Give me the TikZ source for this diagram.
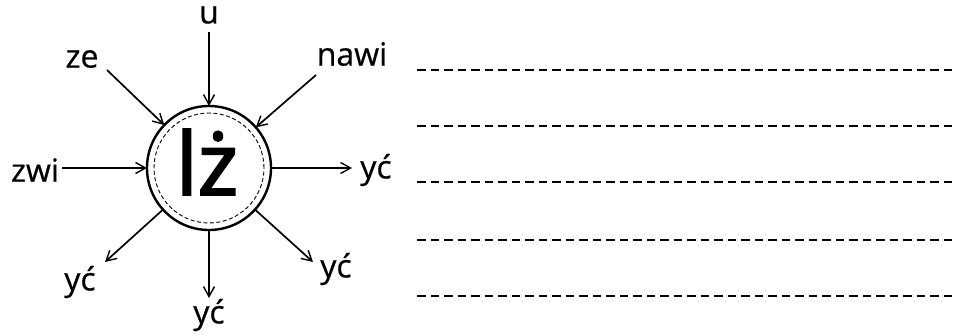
\documentclass[tikz,border=0pt]{standalone}
\usepackage{fontspec}
\setmainfont{Open Sans}[FakeBold=0.6,UprightFont=*,BoldFont=*]
\newfontfamily\bigfont{Open Sans}[FakeBold=2.5]
\usetikzlibrary{arrows.meta}
\begin{document}
\begin{tikzpicture}[x=1pt,y=-1pt,
  lbl/.style={font=\fontsize{32}{34}\selectfont\bfseries, inner sep=0pt},
  arr/.style={line width=1.7pt,-{Straight Barb[length=10pt,width=11pt,line width=1.4pt]}},
  hub/.style={circle, draw, line width=2.4pt, minimum size=124pt, inner sep=0pt, outer sep=0pt},
  wline/.style={line width=2.5pt, dash pattern=on 8.5pt off 5pt}]
\useasboundingbox (0,0) rectangle (957,334);
\node[hub] (c) at (209,168) {};
\node[font=\bigfont\fontsize{86}{88}\selectfont, inner sep=0pt] (lz) at (207,162) {lż};
\draw[line width=0.9pt, dash pattern=on 4pt off 2.5pt] (c.center) circle[radius=55pt];
% inputs
\node[lbl] (u) at (209,15) {u};
\node[lbl] (ze) at (82,59) {ze};
\node[lbl] (nawi) at (352,54) {nawi};
\node[lbl] (zwi) at (35,170) {zwi};
% outputs
\node[lbl] (y1) at (376,170) {yć};
\node[lbl] (y2) at (80,282) {yć};
\node[lbl] (y3) at (209,315) {yć};
\node[lbl] (y4) at (336,269) {yć};
\coordinate (ua) at (209,32);
\coordinate (zea) at (107,70);
\coordinate (nawia) at (316,75);
\coordinate (zwia) at (62,168);
\draw[arr] (ua) -- (c);
\draw[arr] (zea) -- (c);
\draw[arr] (nawia) -- (c);
\draw[arr] (zwia) -- (c.west);
\coordinate (y1a) at (352,168);
\coordinate (y2a) at (105,262);
\coordinate (y3a) at (209,298);
\coordinate (y4a) at (313,262);
\draw[arr] (c.east) -- (y1a);
\draw[arr] (c) -- (y2a);
\draw[arr] (c) -- (y3a);
\draw[arr] (c) -- (y4a);
% answer lines
\foreach \yy/\nm in {70/l1,126/l2,182/l3,240/l4,296/l5}{
  \coordinate (\nm a) at (417,\yy);
  \coordinate (\nm b) at (957,\yy);
  \draw[wline] (\nm a) -- (\nm b);
}
\end{tikzpicture}
\end{document}
